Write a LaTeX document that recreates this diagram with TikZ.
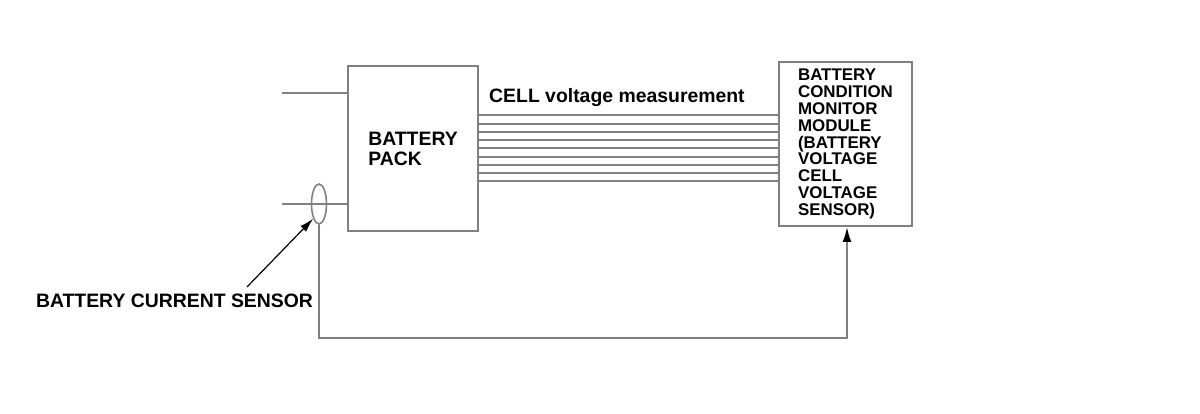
\documentclass[tikz,border=0pt]{standalone}
\usepackage{fontspec}
\setmainfont{Liberation Sans}
\usetikzlibrary{shapes.geometric,arrows.meta,positioning}

\definecolor{wiregray}{RGB}{128,128,128}
\tikzset{
  box/.style={draw=wiregray,line width=2pt,inner sep=0pt,align=left,
    font=\bfseries\fontsize{19.4}{20}\selectfont},
  wire/.style={draw=wiregray,line width=2pt},
  lbl/.style={inner sep=0pt,font=\bfseries\fontsize{19.4}{20}\selectfont},
  pointer/.style={draw=black,line width=1.2pt,-{Latex[length=14pt,width=8pt]}}
}

\begin{document}
\begin{tikzpicture}[x=1pt,y=-1pt]
\useasboundingbox (0,0) rectangle (1200,414);
\node[box,minimum width=130pt,minimum height=165pt] (pack) at (413,148.5) {BATTERY\\PACK};
\node[box,minimum width=133pt,minimum height=164pt,font=\bfseries\fontsize{16.9}{16.9}\selectfont] (bcm) at (845.5,144)
  {BATTERY\\CONDITION\\MONITOR\\MODULE\\(BATTERY\\VOLTAGE\\CELL\\VOLTAGE\\SENSOR)};
\node[ellipse,draw=wiregray,line width=1.6pt,minimum width=15pt,minimum height=40pt,inner sep=0pt] (sensor) at (319,204) {};
\node[lbl,anchor=west] (cellv) at (489,98) {CELL voltage measurement};
\node[lbl] (sensorlbl) at (174.5,301) {BATTERY CURRENT SENSOR};
\coordinate (top) at (282,93);
\coordinate (bot) at (282,204);
\coordinate (loop) at (847,338);
\coordinate (tail) at (247,287);
% pack terminals
\path[wire] (top) -- (top -| pack.west);
\path[wire] (bot) -- (bot -| pack.west);
% cell voltage lines
\foreach \i in {0,...,8}
  \path[wire] ([yshift=(\i-4)*8.25pt]pack.east) coordinate (b\i) -- (bcm.west |- b\i);
% current sensor to module
\path[wire,-{Latex[length=15pt,width=9pt,color=black]}] (sensor.south) |- (loop) -- (loop |- bcm.south);
\draw[pointer] (tail) -- (sensor.south west);
\end{tikzpicture}
\end{document}
